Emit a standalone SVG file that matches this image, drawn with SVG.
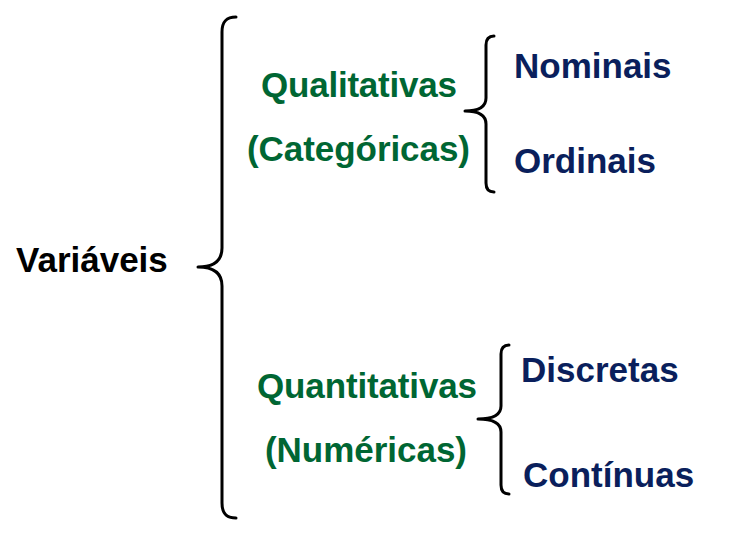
<svg xmlns="http://www.w3.org/2000/svg" width="746" height="537" viewBox="0 0 746 537">
<style>
text{font-family:"Liberation Sans",Arial,sans-serif;font-weight:bold;font-size:35px}
.k{fill:#000}
.g{fill:#006633}
.b{fill:#0A1F5C}
.br{fill:none;stroke:#000;stroke-width:3;stroke-linecap:round;stroke-linejoin:round}
</style>
<rect width="746" height="537" fill="#fff"/>
<g id="connectors">
<path class="br" d="M236,17 C226,17 222,22 222,32 L222,248 C222,260 215,267 198,267 C215,267 222,274 222,286 L222,503 C222,513 226,518 236,518"/>
<path class="br" d="M494,36 C489,36 486,39 486,45 L486,98 C486,106 480,111 465,111 C480,111 486,116 486,124 L486,183 C486,189 489,192 494,192"/>
<path class="br" d="M509,345 C504,345 501,348 501,354 L501,406 C501,414 495,419 478,419 C495,419 501,424 501,432 L501,485 C501,491 504,494 509,494"/>
</g>
<g id="variaveis"><text class="k" x="16" y="272">Variáveis</text></g>
<g id="qualitativas">
<text class="g" x="261" y="97" textLength="196" lengthAdjust="spacing">Qualitativas</text>
<text class="g" x="247" y="161" textLength="223" lengthAdjust="spacing">(Categóricas)</text>
</g>
<g id="quantitativas">
<text class="g" x="257" y="398" textLength="220" lengthAdjust="spacing">Quantitativas</text>
<text class="g" x="265" y="462" textLength="202" lengthAdjust="spacing">(Numéricas)</text>
</g>
<g id="nominais"><text class="b" x="514" y="78">Nominais</text></g>
<g id="ordinais"><text class="b" x="514" y="173">Ordinais</text></g>
<g id="discretas"><text class="b" x="521" y="382">Discretas</text></g>
<g id="continuas"><text class="b" x="523" y="487">Contínuas</text></g>
</svg>
